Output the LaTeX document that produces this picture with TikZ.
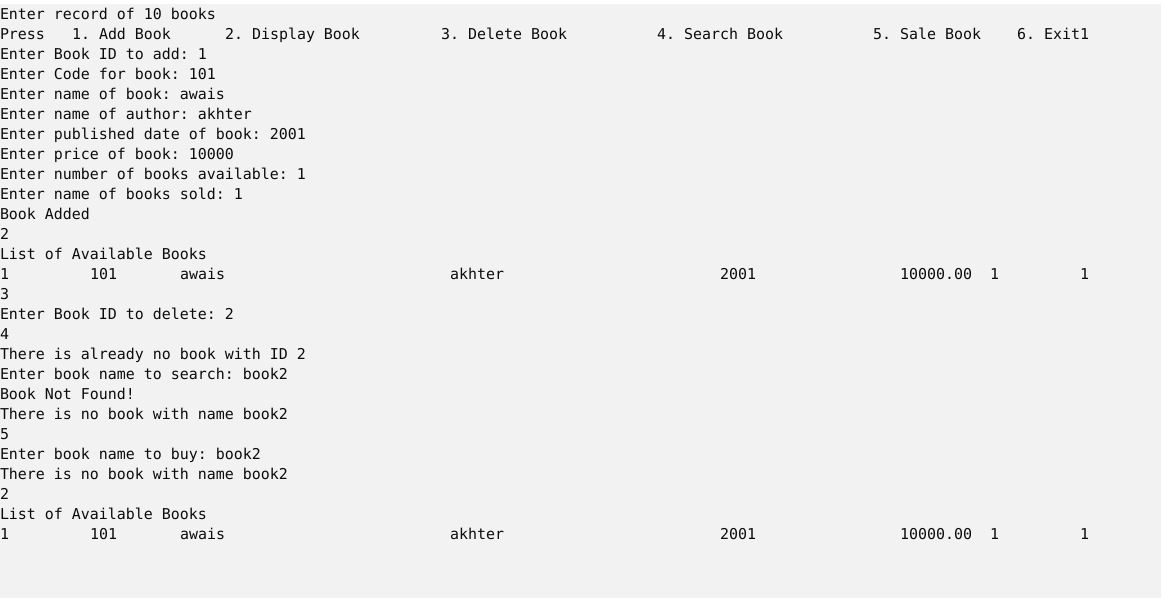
\documentclass[tikz,border=0pt]{standalone}
\usepackage{fontspec}
\newfontfamily\conmono{DejaVu Sans Mono}
\definecolor{conbg}{HTML}{F2F2F2}
\definecolor{confg}{HTML}{0C0C0C}
\frenchspacing
\tikzset{txt/.style={anchor=base west, inner sep=0pt, outer sep=0pt, text=confg, font=\conmono\fontsize{14.95}{20}\selectfont\frenchspacing}}
\newcommand\conln[4]{\node[txt] (#1) at ({#2*9},{-19.5-20*(#3-1)}) {#4};}
\begin{document}
\begin{tikzpicture}[x=1pt,y=1pt]
\useasboundingbox (0,0) rectangle (1163,-598);
\fill[white] (0,0) rectangle (1163,-598);
\fill[conbg] (0,-4) rectangle (1161,-598);
\conln{l1}{0}{1}{Enter record of 10 books}
\conln{l2a}{0}{2}{Press}
\conln{l2b}{8}{2}{1. Add Book}
\conln{l2c}{25}{2}{2. Display Book}
\conln{l2d}{49}{2}{3. Delete Book}
\conln{l2e}{73}{2}{4. Search Book}
\conln{l2f}{97}{2}{5. Sale Book}
\conln{l2g}{113}{2}{6. Exit1}
\conln{l3}{0}{3}{Enter Book ID to add: 1}
\conln{l4}{0}{4}{Enter Code for book: 101}
\conln{l5}{0}{5}{Enter name of book: awais}
\conln{l6}{0}{6}{Enter name of author: akhter}
\conln{l7}{0}{7}{Enter published date of book: 2001}
\conln{l8}{0}{8}{Enter price of book: 10000}
\conln{l9}{0}{9}{Enter number of books available: 1}
\conln{l10}{0}{10}{Enter name of books sold: 1}
\conln{l11}{0}{11}{Book Added}
\conln{l12}{0}{12}{2}
\conln{l13}{0}{13}{List of Available Books}
\conln{l14a}{0}{14}{1}
\conln{l14b}{10}{14}{101}
\conln{l14c}{20}{14}{awais}
\conln{l14d}{50}{14}{akhter}
\conln{l14e}{80}{14}{2001}
\conln{l14f}{100}{14}{10000.00}
\conln{l14g}{110}{14}{1}
\conln{l14h}{120}{14}{1}
\conln{l15}{0}{15}{3}
\conln{l16}{0}{16}{Enter Book ID to delete: 2}
\conln{l17}{0}{17}{4}
\conln{l18}{0}{18}{There is already no book with ID 2}
\conln{l19}{0}{19}{Enter book name to search: book2}
\conln{l20}{0}{20}{Book Not Found!}
\conln{l21}{0}{21}{There is no book with name book2}
\conln{l22}{0}{22}{5}
\conln{l23}{0}{23}{Enter book name to buy: book2}
\conln{l24}{0}{24}{There is no book with name book2}
\conln{l25}{0}{25}{2}
\conln{l26}{0}{26}{List of Available Books}
\conln{l27a}{0}{27}{1}
\conln{l27b}{10}{27}{101}
\conln{l27c}{20}{27}{awais}
\conln{l27d}{50}{27}{akhter}
\conln{l27e}{80}{27}{2001}
\conln{l27f}{100}{27}{10000.00}
\conln{l27g}{110}{27}{1}
\conln{l27h}{120}{27}{1}
\end{tikzpicture}
\end{document}
